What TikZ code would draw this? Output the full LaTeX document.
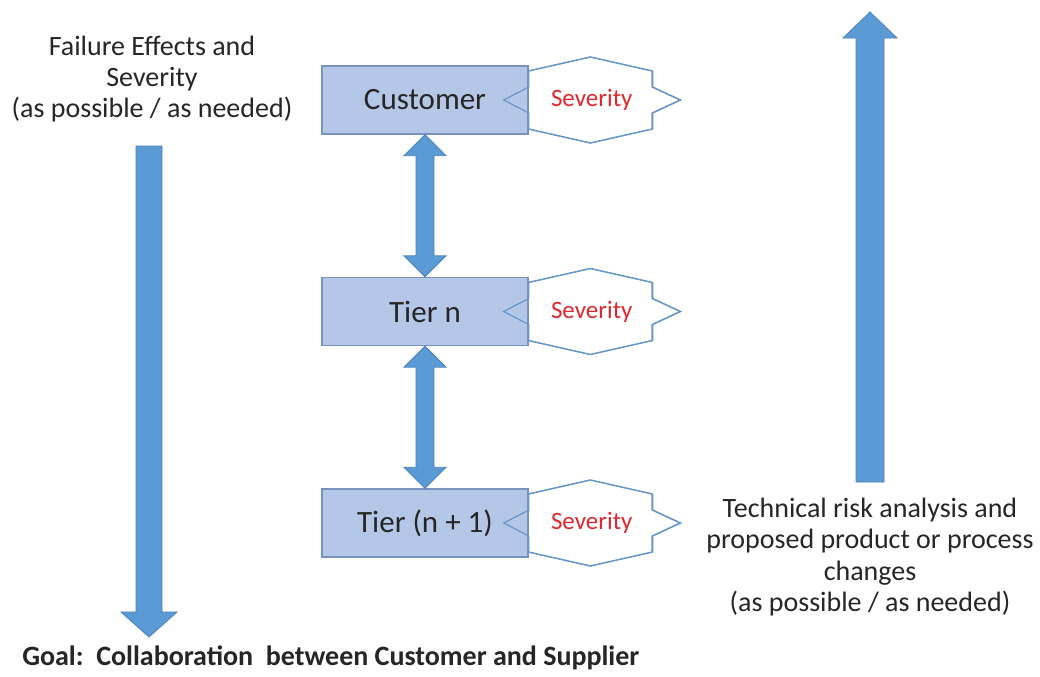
\documentclass[tikz,border=0pt]{standalone}
\usepackage{fontspec}
\setmainfont{Carlito}
\usetikzlibrary{calc}
\definecolor{arrowfill}{HTML}{5B9BD5}
\definecolor{arrowline}{HTML}{4A82BE}
\definecolor{boxfill}{HTML}{B4C7E7}
\definecolor{boxline}{HTML}{7891BE}
\definecolor{starline}{HTML}{6696CC}
\definecolor{sevred}{HTML}{E0282E}
\definecolor{txt}{HTML}{262626}
\newcommand\sevstar[2]{%
  \path[#2] ($(#1.east)+(0,-29)$) -- ($(#1.east)+(62,-43)$) -- ($(#1.east)+(124,-29)$)
    -- ($(#1.east)+(124,-13)$) -- ($(#1.east)+(152,0)$) -- ($(#1.east)+(124,13)$)
    -- ($(#1.east)+(124,29)$) -- ($(#1.east)+(62,43)$) -- ($(#1.east)+(0,29)$)
    -- ($(#1.east)+(0,13)$) -- ($(#1.east)+(-25,0)$) -- ($(#1.east)+(0,-13)$) -- cycle;}
\newcommand\dblarrow[2]{%
  \draw[blockarrow] (#1.south) -- ($(#1.south)+(21,21)$) -- ($(#1.south)+(9,21)$)
    -- ($(#2.north)+(9,-21)$) -- ($(#2.north)+(21,-21)$) -- (#2.north)
    -- ($(#2.north)+(-21,-21)$) -- ($(#2.north)+(-9,-21)$)
    -- ($(#1.south)+(-9,21)$) -- ($(#1.south)+(-21,21)$) -- cycle;}
\begin{document}
\begin{tikzpicture}[x=0.75pt,y=-0.75pt,
  tierbox/.style={draw=boxline, fill=boxfill, line width=1.1pt, minimum width=154.5pt,
    minimum height=51pt, inner sep=0pt, font=\fontsize{23.25}{28}\selectfont, text=txt},
  starfill/.style={draw=starline, fill=white, line width=0.9pt, line join=miter},
  starline/.style={draw=starline, line width=0.9pt, line join=miter},
  sevtext/.style={font=\fontsize{18.75}{22}\selectfont, text=sevred},
  sidetext/.style={align=center, font=\fontsize{21}{23.4}\selectfont, text=txt},
  blockarrow/.style={draw=arrowline, fill=arrowfill, line width=0.6pt, line join=miter}
]
\useasboundingbox (0,0) rectangle (1040,676);
\fill[white] (0,0) rectangle (1040,676);

% coordinates for the boxes
\coordinate (pc) at (425,100);
\coordinate (pn) at (425,311.5);
\coordinate (pn1) at (425,523);

% severity stars (behind boxes)
\path (pc) ++(103,0) coordinate (ce);
\path (pn) ++(103,0) coordinate (ne);
\path (pn1) ++(103,0) coordinate (n1e);
\sevstar{ce}{starfill}
\sevstar{ne}{starfill}
\sevstar{n1e}{starfill}

% boxes
\node[tierbox] (cust) at (pc) {Customer};
\node[tierbox] (tn) at (pn) {Tier n};
\node[tierbox] (tn1) at (pn1) {Tier (n + 1)};

% star outlines over the boxes
\sevstar{cust}{starline}
\sevstar{tn}{starline}
\sevstar{tn1}{starline}

\node[sevtext] (sev1) at ($(cust.east)+(63,0)$) {Severity};
\node[sevtext] (sev2) at ($(tn.east)+(63,0)$) {Severity};
\node[sevtext] (sev3) at ($(tn1.east)+(63,0)$) {Severity};

% double arrows between boxes
\dblarrow{cust}{tn}
\dblarrow{tn}{tn1}

% big left down arrow
\draw[blockarrow] (136,146) -- (162,146) -- (162,612) -- (177,612) -- (149,637)
  -- (121,612) -- (136,612) -- cycle;
% big right up arrow
\draw[blockarrow] (870,12) -- (897,38) -- (884,38) -- (884,482) -- (856,482)
  -- (856,38) -- (843,38) -- cycle;

% texts
\node[sidetext] (lefttext) at (152,79) {Failure Effects and\\Severity\\(as possible / as needed)};
\node[sidetext] (righttext) at (870,557) {Technical risk analysis and\\proposed product or process\\changes\\(as possible / as needed)};
\node[anchor=west, font=\bfseries\fontsize{21}{24}\selectfont, text=txt, inner sep=0pt] (goal) at (22,658)
  {Goal:\ \ Collaboration\ \ between Customer and Supplier};
\end{tikzpicture}
\end{document}
